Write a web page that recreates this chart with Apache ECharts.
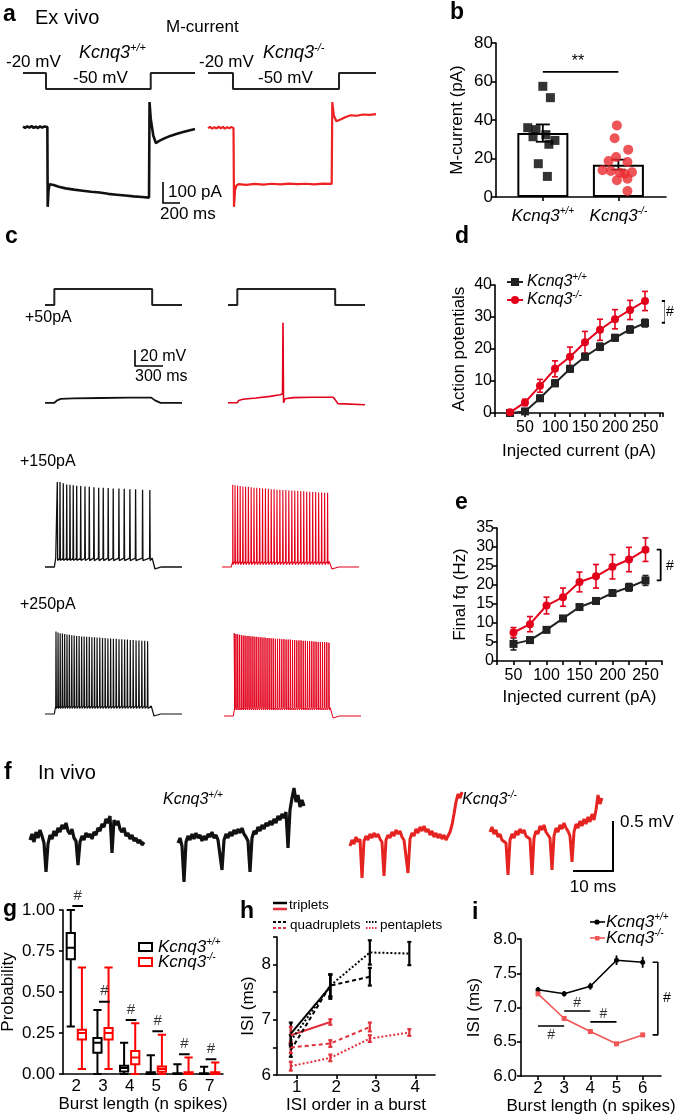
<!DOCTYPE html>
<html>
<head>
<meta charset="utf-8">
<script src="https://cdn.jsdelivr.net/npm/echarts@6/dist/echarts.min.js"></script>
<style>
html, body { margin: 0; padding: 0; background: #fff; }
#main { width: 675px; height: 1117px; }
</style>
</head>
<body>
<div id="main"></div>
<script>
var F = '"Liberation Sans", Arial, Helvetica, sans-serif';
var BLACK = '#111';
var RED = '#e3001b';

// ---- a: M-current, ex vivo (time ms, current pA / voltage mV)
var aProtoWT = [[0,-20],[270,-20],[270,-50],[1500,-50],[1500,-20],[2020,-20]];
var aProtoKO = [[0,-20],[294,-20],[294,-50],[1541,-50],[1541,-20],[1976,-20]];
var aCurrWT = [[0,3],[25,-4],[50,4],[75,-3],[100,5],[125,-4],[150,3],[175,-5],[200,4],[225,-3],[250,3],[286,0],[290,-380],[300,-300],[312,-272],[330,-268],[360,-276],[420,-284],[500,-292],[600,-298],[700,-303],[800,-308],[900,-312],[1000,-318],[1100,-322],[1200,-326],[1300,-330],[1400,-333],[1480,-336],[1486,119],[1500,40],[1530,-40],[1560,-76],[1600,-66],[1660,-54],[1730,-42],[1800,-33],[1880,-24],[1950,-16],[2020,-9]];
var aCurrKO = [[0,-5],[25,1],[50,-8],[75,0],[100,-7],[125,2],[150,-6],[175,1],[200,-8],[225,0],[250,-6],[275,1],[300,-5],[306,-380],[318,-300],[335,-278],[360,-272],[450,-275],[550,-271],[650,-274],[750,-270],[850,-273],[950,-269],[1050,-272],[1150,-270],[1250,-273],[1350,-269],[1455,-271],[1462,119],[1480,55],[1510,28],[1530,24],[1570,38],[1620,48],[1680,56],[1750,54],[1820,60],[1900,58],[1976,62]];

// ---- b: M-current amplitude (pA)
var bGroups = [0, 1];
var bMean = [33.2, 16.8];
var bSem = [4.5, 2.6];
var bWTpts = [[0.0,57.5],[0.1,51.6],[-0.2,36.0],[-0.09,35.0],[-0.13,31.3],[0.04,32.4],[0.16,29.4],[0.08,27.4],[-0.06,17.3],[0.06,10.7]];
var bKOpts = [[0.98,37.2],[0.95,30.5],[1.13,24.6],[0.97,20.8],[0.87,18.7],[1.12,18.2],[0.79,13.9],[0.9,13.5],[1.02,12.6],[1.18,12.9],[1.08,12.1],[0.98,8.7],[1.12,9.5],[1.12,3.1]];
var bSig = 65;

// ---- c: current-clamp traces (time ms, mV)
var cProto = [[0,0],[100,0],[100,50],[1150,50],[1150,0],[1470,0]];
var c50WT = [[0,-70],[100,-70],[130,-67],[170,-65],[300,-64.5],[600,-64],[900,-63.5],[1140,-63.5],[1180,-67],[1240,-70],[1470,-70]];
var c50KO = [[0,-70],[100,-70],[115,-67],[160,-65.5],[300,-64],[450,-62],[560,-60],[585,-59],[590,30],[596,-70],[612,-65],[700,-63.5],[900,-63],[1130,-63],[1150,-64],[1180,-71],[1470,-72.5]];
var c150WTlev = [-70, -59, -62];
var c150WTspk = [132,161,196,233,268,303,340,383,429,475,525,576,625,678,732,793,850,911,972,1047,1125];
var c150WTpk = [36,36,34.5,33,32.5,32,31.5,31,30.5,30,29.5,29,29,28.5,28,28,27.5,27,27,26.5,26];
var c150KOlev = [-70, -63, -67];
var c150KOspk = [115,140,167,195,224,253,283,313,343,373,404,435,466,497,528,559,590,621,653,685,717,749,781,813,845,877,909,941,973,1005,1037,1069,1101,1133];
var c150KOpk = [32.5,32,31.5,31,30.5,30,30,29.5,29,29,28.5,28,28,27.5,27,27,26.5,26.5,26,26,25.5,25.5,25,25,24.5,24.5,24,24,23.5,23.5,23,23,22.5,22.5];
var c250WTlev = [-70, -60, -63];
var c250WTspk = [118,140,163,187,211,236,261,287,313,339,366,393,420,447,475,503,531,559,588,617,646,675,704,734,764,794,824,854,884,915,946,977,1008,1039,1070,1101];
var c250WTpk = [33,32,31,30.5,30,29.5,29,28.5,28,27.5,27.5,27,27,26.5,26.5,26,26,25.5,25.5,25,25,24.5,24.5,24,24,23.5,23.5,23,23,22.5,22.5,22,22,21.5,21.5,21];
var c250KOlev = [-72.5, -62, -65];
var c250KOspk = [110,128,147,166,186,206,226,247,268,289,310,331,352,374,396,418,440,462,484,506,528,551,574,597,620,643,666,689,712,735,758,781,804,827,850,873,896,919,942,965,988,1011,1034,1057,1080,1103,1126];
var c250KOpk = [31,30,29.5,29,28.5,28,28,27.5,27.5,27,27,26.5,26.5,26,26,25.5,25.5,25,25,24.5,24.5,24,24,24,23.5,23.5,23,23,23,22.5,22.5,22,22,22,21.5,21.5,21,21,21,20.5,20.5,20,20,20,19.5,19.5,19];

// ---- d: action potentials vs injected current
var dCurrent = [25,50,75,100,125,150,175,200,225,250];
var dWT = [0, 0.5, 4.6, 9.3, 13.8, 17.6, 20.7, 23.5, 26.1, 28.1];
var dWTsem = [0.2, 0.4, 0.9, 1.0, 1.0, 1.0, 1.1, 1.0, 1.1, 1.2];
var dKO = [0.2, 3.3, 8.5, 13.8, 17.6, 22.1, 26.0, 29.3, 32.2, 35.0];
var dKOsem = [0.3, 1.0, 2.0, 2.5, 3.0, 3.4, 3.3, 3.0, 3.0, 3.0];

// ---- e: final frequency vs injected current
var eCurrent = [50,75,100,125,150,175,200,225,250];
var eWT = [4.5, 5.5, 8.2, 11.2, 14.2, 15.8, 17.9, 19.4, 21.2];
var eWTsem = [1.6, 0.8, 0.7, 0.7, 0.6, 0.7, 0.7, 1.0, 1.3];
var eKO = [7.5, 9.7, 14.6, 16.8, 20.8, 22.3, 24.8, 26.7, 29.3];
var eKOsem = [1.3, 2.0, 2.2, 2.4, 2.6, 3.1, 3.2, 3.2, 3.1];

// ---- f: in vivo traces (0.5 ms samples, uV)
var fWT1 = [0,60,-20,80,20,100,40,-30,-320,-40,50,10,90,40,120,80,150,110,170,90,60,110,20,-10,-250,-20,40,0,70,30,60,10,80,50,120,90,160,130,210,170,240,-130,200,150,190,110,80,120,40,70,10,50,-10,20,-30,0,-50,-20];
var fWT2 = [-30,20,-60,-420,-20,40,0,60,10,70,20,50,-10,40,0,60,30,80,20,50,0,-20,-300,0,60,20,80,40,100,60,110,70,120,60,30,-10,-320,20,90,60,130,90,150,110,170,140,190,150,210,170,240,200,260,220,280,-80,300,420,520,380,450,330,400,340];
var fKO1 = [-60,0,-40,30,-20,10,-380,-10,40,0,60,20,70,30,60,10,-20,-360,0,50,20,80,40,100,60,90,30,0,-20,-330,10,70,40,110,70,130,90,140,80,110,50,90,30,70,20,60,10,50,0,40,80,150,260,380,460,420,480];
var fKO2 = [80,130,60,100,30,60,0,20,-30,-350,0,60,20,90,50,110,70,100,40,60,10,-350,20,90,60,140,100,150,80,60,20,-300,40,120,80,150,110,170,120,90,40,-220,80,160,120,190,140,210,160,230,180,260,200,300,450,360,420];

// ---- g: burst length probability (min, Q1, median, Q3, max)
var gCats = ['2','3','4','5','6','7'];
var gWT = [[0.29,0.70,0.77,0.86,1.0],[0,0.13,0.19,0.22,0.39],[0,0.016,0.036,0.05,0.19],[0,0,0.004,0.01,0.115],[0,0,0.002,0.004,0.059],[0,0,0.002,0.004,0.044]];
var gKO = [[0.03,0.21,0.25,0.27,0.65],[0.03,0.21,0.25,0.28,0.65],[0,0.06,0.10,0.14,0.31],[0,0.014,0.03,0.046,0.24],[0,0,0.005,0.01,0.10],[0,0,0.005,0.01,0.07]];
var gSig = [1.024, 0.44, 0.33, 0.26, 0.12, 0.09];

// ---- h: ISI by order in burst (ms)
var hOrder = [0.85, 1.85, 2.85, 3.85];
var hTripWT = [6.75, 7.6], hTripWTsem = [0.2, 0.22];
var hTripKO = [6.72, 6.96], hTripKOsem = [0.15, 0.05];
var hQuadWT = [6.45, 7.62, 7.78], hQuadWTsem = [0.12, 0.2, 0.16];
var hQuadKO = [6.5, 6.57, 6.87], hQuadKOsem = [0.1, 0.06, 0.08];
var hPentWT = [6.62, 7.62, 8.22, 8.2], hPentWTsem = [0.1, 0.2, 0.22, 0.21];
var hPentKO = [6.16, 6.31, 6.66, 6.77], hPentKOsem = [0.08, 0.06, 0.06, 0.06];

// ---- i: ISI vs burst length (ms)
var iBurst = [2, 3, 4, 5, 6];
var iWT = [7.26, 7.2, 7.31, 7.69, 7.66], iWTsem = [0.04, 0.04, 0.05, 0.07, 0.08];
var iKO = [7.2, 6.84, 6.65, 6.47, 6.6], iKOsem = [0.03, 0.02, 0.02, 0.02, 0.03];
var iSig = [[2, 3, 6.73], [3, 4, 6.95], [4, 5, 6.79]];
var iSigText = [[2.5, 6.6], [3.5, 7.06], [4.5, 6.9]];

// ------------------------------------------------------------------
var grids = [], xAxes = [], yAxes = [], series = [], graphics = [];

function addGrid(rect, xa, ya) {
    var g = grids.length;
    rect.outerBoundsMode = 'none';
    grids.push(rect);
    xa.gridIndex = g; ya.gridIndex = g;
    xAxes.push(xa); yAxes.push(ya);
    return { x: xAxes.length - 1, y: yAxes.length - 1 };
}
function hid(min, max) { return { type: 'value', show: false, min: min, max: max }; }

function axisBase(extra) {
    var a = {
        axisLine: { onZero: false, lineStyle: { color: '#000', width: 1.6 } },
        axisTick: { length: 4, lineStyle: { color: '#000', width: 1.6 } },
        axisLabel: { color: '#000', fontSize: 16, fontFamily: F, margin: 5 },
        splitLine: { show: false },
        nameLocation: 'middle',
        nameTextStyle: { color: '#000', fontSize: 17, fontFamily: F }
    };
    for (var k in extra) {
        if (typeof extra[k] === 'object' && !Array.isArray(extra[k]) && a[k]) {
            a[k] = Object.assign({}, a[k], extra[k]);
        } else a[k] = extra[k];
    }
    return a;
}

function line(ax, data, color, width, opts) {
    series.push(Object.assign({
        type: 'line', xAxisIndex: ax.x, yAxisIndex: ax.y, data: data,
        symbol: 'none', showSymbol: false, clip: false, silent: true, animation: false,
        lineStyle: { color: color, width: width }, itemStyle: { color: color }
    }, opts || {}));
}

function errBars(ax, xs, means, sems, color, cap, lw) {
    var data = xs.map(function (x, k) { return [x, means[k] - sems[k], means[k] + sems[k]]; });
    series.push({
        type: 'custom', xAxisIndex: ax.x, yAxisIndex: ax.y, data: data, silent: true, animation: false, z: 3,
        renderItem: function (p, api) {
            var lo = api.coord([api.value(0), api.value(1)]);
            var hi = api.coord([api.value(0), api.value(2)]);
            var st = { stroke: color, lineWidth: lw };
            return { type: 'group', children: [
                { type: 'line', shape: { x1: lo[0], y1: lo[1], x2: hi[0], y2: hi[1] }, style: st },
                { type: 'line', shape: { x1: lo[0] - cap, y1: lo[1], x2: lo[0] + cap, y2: lo[1] }, style: st },
                { type: 'line', shape: { x1: hi[0] - cap, y1: hi[1], x2: hi[0] + cap, y2: hi[1] }, style: st }
            ] };
        }
    });
}

function spikeTrace(lev, times, peaks, tOn, tOff, tEnd) {
    var base = lev[0], step = lev[1], ahp = lev[2];
    var pts = [[0, base], [tOn, base], [tOn + 15, step]];
    times.forEach(function (t, k) {
        var pk = peaks[k] !== undefined ? peaks[k] : peaks[peaks.length - 1];
        pts.push([t - 3, step], [t, pk], [t + 4, ahp]);
    });
    pts.push([tOff, step], [tOff + 30, base - 2.5], [tOff + 100, base], [tEnd, base]);
    return pts;
}

function txt(text, x, y, size, opt) {
    graphics.push({ type: 'text', silent: true, style: Object.assign({
        text: text, x: x, y: y, fontSize: size, fontFamily: F, fill: '#000',
        align: 'left', verticalAlign: 'middle' }, opt || {}) });
}
function kcnq(sup, x, y, size, align) {
    graphics.push({ type: 'text', silent: true, style: {
        text: '{i|Kcnq3}{s|' + sup + '}', x: x, y: y, align: align || 'left', verticalAlign: 'middle',
        rich: {
            i: { fontSize: size, fontStyle: 'italic', fontFamily: F, fill: '#000' },
            s: { fontSize: Math.round(size * 0.6), fontStyle: 'italic', fontFamily: F, fill: '#000',
                 padding: [0, 0, Math.round(size * 0.6), 0] }
        } } });
}
function poly(points, w, color, dash) {
    graphics.push({ type: 'polyline', silent: true, shape: { points: points },
        style: { stroke: color || '#000', lineWidth: w, fill: 'none', lineDash: dash || null } });
}
function rich(size) {
    return {
        i: { fontSize: size, fontStyle: 'italic', fontFamily: F, color: '#000' },
        s: { fontSize: Math.round(size * 0.6), fontStyle: 'italic', fontFamily: F, color: '#000',
             padding: [0, 0, Math.round(size * 0.6), 0] }
    };
}

// ---- panel a
var aPL = addGrid({ left: 23, top: 73, width: 172, height: 16 }, hid(0, 2020), hid(-50, -20));
var aPR = addGrid({ left: 208, top: 73, width: 168, height: 16 }, hid(0, 1976), hid(-50, -20));
var aCL = addGrid({ left: 23, top: 100, width: 172, height: 110 }, hid(0, 2020), hid(-395, 129));
var aCR = addGrid({ left: 208, top: 100, width: 168, height: 110 }, hid(0, 1976), hid(-395, 129));
line(aPL, aProtoWT, '#222', 2);
line(aPR, aProtoKO, '#222', 2);
line(aCL, aCurrWT, BLACK, 2.6);
line(aCR, aCurrKO, '#ee2222', 2.2);

// ---- panel b
var bAx = addGrid({ left: 496, top: 43, width: 170, height: 154 },
    axisBase({ type: 'value', min: -0.62, max: 1.63,
        axisTick: { customValues: [0, 1] },
        axisLabel: { customValues: [0, 1], margin: 9,
            formatter: function (v) { return v === 0 ? '{i|Kcnq3}{s|+/+}' : '{i|Kcnq3}{s|-/-}'; },
            rich: rich(17) } }),
    axisBase({ type: 'value', min: 0, max: 80, interval: 20, name: 'M-current (pA)', nameGap: 30,
        axisLabel: { margin: 3, fontSize: 17 } }));
series.push({ type: 'bar', xAxisIndex: bAx.x, yAxisIndex: bAx.y, barWidth: 51, silent: true, animation: false,
    data: bGroups.map(function (g, k) { return [g, bMean[k]]; }),
    itemStyle: { color: '#fff', borderColor: '#000', borderWidth: 2 } });
errBars(bAx, bGroups, bMean, bSem, '#000', 7, 1.8);
series.push({ type: 'scatter', xAxisIndex: bAx.x, yAxisIndex: bAx.y, data: bWTpts, symbol: 'rect',
    symbolSize: 9, itemStyle: { color: '#000' }, silent: true, animation: false, z: 4 });
series.push({ type: 'scatter', xAxisIndex: bAx.x, yAxisIndex: bAx.y, data: bKOpts, symbol: 'circle',
    symbolSize: 10, itemStyle: { color: '#ea2a30' }, silent: true, animation: false, z: 4 });
line(bAx, [[0, bSig], [1, bSig]], '#000', 1.6);

// ---- panel c
var cPL = addGrid({ left: 45, top: 289, width: 137, height: 16 }, hid(0, 1470), hid(0, 50));
var cPR = addGrid({ left: 228, top: 289, width: 137, height: 16 }, hid(0, 1470), hid(0, 50));
line(cPL, cProto, '#222', 2);
line(cPR, cProto, '#222', 2);
var c1L = addGrid({ left: 45, top: 310, width: 137, height: 100 }, hid(0, 1470), hid(-79, 46));
var c1R = addGrid({ left: 228, top: 310, width: 137, height: 100 }, hid(0, 1470), hid(-79, 46));
line(c1L, c50WT, BLACK, 1.8);
line(c1R, c50KO, RED, 1.6);
var c2L = addGrid({ left: 45, top: 470, width: 137, height: 105 }, hid(0, 1470), hid(-80, 51));
var c2R = addGrid({ left: 222, top: 470, width: 137, height: 105 }, hid(0, 1470), hid(-80, 51));
line(c2L, spikeTrace(c150WTlev, c150WTspk, c150WTpk, 100, 1150, 1470), BLACK, 1.3);
line(c2R, spikeTrace(c150KOlev, c150KOspk, c150KOpk, 100, 1150, 1470), RED, 1.1);
var c3L = addGrid({ left: 45, top: 620, width: 137, height: 100 }, hid(0, 1470), hid(-77.5, 47.5));
var c3R = addGrid({ left: 224, top: 620, width: 137, height: 100 }, hid(0, 1470), hid(-77.5, 47.5));
line(c3L, spikeTrace(c250WTlev, c250WTspk, c250WTpk, 100, 1140, 1470), BLACK, 1.2);
line(c3R, spikeTrace(c250KOlev, c250KOspk, c250KOpk, 100, 1140, 1470), RED, 1.0);

// ---- panel d
var dAx = addGrid({ left: 495, top: 285, width: 168, height: 128 },
    axisBase({ type: 'value', min: 0, max: 280, interval: 25, name: 'Injected current (pA)', nameGap: 30,
        axisLabel: { margin: 7, formatter: function (v) { return (v > 0 && v % 50 === 0) ? v : ''; } } }),
    axisBase({ type: 'value', min: 0, max: 40, interval: 10, name: 'Action potentials', nameGap: 27,
        axisLabel: { margin: 3 } }));
errBars(dAx, dCurrent, dWT, dWTsem, '#222', 3, 1.6);
errBars(dAx, dCurrent, dKO, dKOsem, RED, 3, 1.6);
line(dAx, dCurrent.map(function (c, k) { return [c, dWT[k]]; }), '#222', 2,
    { symbol: 'rect', showSymbol: true, symbolSize: 8, z: 4 });
line(dAx, dCurrent.map(function (c, k) { return [c, dKO[k]]; }), RED, 2,
    { symbol: 'circle', showSymbol: true, symbolSize: 8, z: 5 });
line(dAx, [[278, 35], [284, 35], [284, 28.2], [278, 28.2]], '#000', 1.8);

// ---- panel e
var eAx = addGrid({ left: 497, top: 528, width: 165, height: 133 },
    axisBase({ type: 'value', min: 25, max: 275, interval: 25, name: 'Injected current (pA)', nameGap: 28,
        axisLabel: { margin: 7, formatter: function (v) { return v % 50 === 0 ? v : ''; } } }),
    axisBase({ type: 'value', min: 0, max: 35, interval: 5, name: 'Final fq (Hz)', nameGap: 28,
        axisLabel: { margin: 3 } }));
errBars(eAx, eCurrent, eWT, eWTsem, '#222', 3, 1.6);
errBars(eAx, eCurrent, eKO, eKOsem, RED, 3, 1.6);
line(eAx, eCurrent.map(function (c, k) { return [c, eWT[k]]; }), '#222', 2,
    { symbol: 'rect', showSymbol: true, symbolSize: 8, z: 4 });
line(eAx, eCurrent.map(function (c, k) { return [c, eKO[k]]; }), RED, 2,
    { symbol: 'circle', showSymbol: true, symbolSize: 8, z: 5 });
line(eAx, [[267, 29.3], [273, 29.3], [273, 21.2], [267, 21.2]], '#000', 1.8);

// ---- panel f
function catAxis(n) { return { type: 'category', show: false, boundaryGap: false, data: Array.from({ length: n }, function (_, k) { return k; }) }; }
var f1 = addGrid({ left: 30, top: 785, width: 114, height: 110 }, catAxis(fWT1.length), hid(-550, 550));
var f2 = addGrid({ left: 178, top: 785, width: 126, height: 110 }, catAxis(fWT2.length), hid(-550, 550));
var f3 = addGrid({ left: 350, top: 785, width: 112, height: 110 }, catAxis(fKO1.length), hid(-550, 550));
var f4 = addGrid({ left: 490, top: 785, width: 112, height: 110 }, catAxis(fKO2.length), hid(-550, 550));
line(f1, fWT1, BLACK, 3.2);
line(f2, fWT2, BLACK, 3.2);
line(f3, fKO1, '#e52421', 3);
line(f4, fKO2, '#e52421', 3);

// ---- panel g
var gAx = addGrid({ left: 63, top: 910, width: 160, height: 164 },
    axisBase({ type: 'category', data: gCats, name: 'Burst length (n spikes)', nameGap: 22,
        axisTick: { alignWithLabel: true }, axisLabel: { margin: 4, fontSize: 17 } }),
    axisBase({ type: 'value', min: 0, max: 1, interval: 0.25, name: 'Probability', nameGap: 46,
        axisLabel: { margin: 8, fontSize: 17, formatter: function (v) { return v.toFixed(2); } } }));
xAxes.push({ type: 'value', gridIndex: grids.length - 1, min: 1.5, max: 7.5, show: false });
var gSigAx = { x: xAxes.length - 1, y: gAx.y };
series.push({ type: 'boxplot', xAxisIndex: gAx.x, yAxisIndex: gAx.y, data: gWT, boxWidth: [8, 10],
    silent: true, animation: false, itemStyle: { color: '#fff', borderColor: '#000', borderWidth: 2 } });
series.push({ type: 'boxplot', xAxisIndex: gAx.x, yAxisIndex: gAx.y, data: gKO, boxWidth: [8, 10],
    silent: true, animation: false, itemStyle: { color: '#fff', borderColor: '#ff0000', borderWidth: 2 } });
var gSigLines = [];
gSig.forEach(function (s, k) {
    var c = k + 2;
    gSigLines.push([c - 0.15, s], [c + 0.25, s], null);
});
line(gSigAx, gSigLines, '#000', 2, { connectNulls: false });
series.push({ type: 'scatter', xAxisIndex: gSigAx.x, yAxisIndex: gSigAx.y, symbolSize: 0, silent: true, animation: false,
    clip: false,
    data: gSig.map(function (s, k) { return [k + 2.05, s]; }),
    label: { show: true, position: 'top', distance: 3, formatter: '#', color: '#000', fontSize: 15, fontFamily: F } });

// ---- panel h
var hAx = addGrid({ left: 277, top: 937, width: 158, height: 138 },
    axisBase({ type: 'value', min: 0.5, max: 4.5, name: 'ISI order in a burst', nameGap: 22,
        axisTick: { customValues: [1, 2, 3, 4] },
        axisLabel: { customValues: [1, 2, 3, 4], margin: 4, fontSize: 17 } }),
    axisBase({ type: 'value', min: 6, max: 8.5, interval: 0.5, name: 'ISI (ms)', nameGap: 20,
        axisLabel: { margin: 6, fontSize: 17, formatter: function (v) { return v % 1 === 0 ? v : ''; } } }));
var HRED = '#e0303c';
function hSeries(vals, sems, color, type) {
    var xs = hOrder.slice(0, vals.length);
    errBars(hAx, xs, vals, sems, color, 2, 2.2);
    line(hAx, xs.map(function (x, k) { return [x, vals[k]]; }), color, 2, { lineStyle: { color: color, width: 2, type: type } });
}
hSeries(hTripWT, hTripWTsem, '#000', 'solid');
hSeries(hTripKO, hTripKOsem, HRED, 'solid');
hSeries(hQuadWT, hQuadWTsem, '#000', [4, 3]);
hSeries(hQuadKO, hQuadKOsem, HRED, [4, 3]);
hSeries(hPentWT, hPentWTsem, '#000', [2, 2]);
hSeries(hPentKO, hPentKOsem, HRED, [2, 2]);

// ---- panel i
var IRED = '#f05656';
var iAx = addGrid({ left: 521, top: 939, width: 140, height: 137 },
    axisBase({ type: 'value', min: 1.35, max: 6.7, name: 'Burst length (n spikes)', nameGap: 22,
        axisTick: { customValues: iBurst },
        axisLabel: { customValues: iBurst, margin: 4, fontSize: 17 } }),
    axisBase({ type: 'value', min: 6, max: 8, interval: 0.5, name: 'ISI (ms)', nameGap: 38,
        axisLabel: { margin: 4, fontSize: 17, formatter: function (v) { return v.toFixed(1); } } }));
errBars(iAx, iBurst, iWT, iWTsem, '#000', 0, 1.8);
errBars(iAx, iBurst, iKO, iKOsem, IRED, 0, 1.8);
line(iAx, iBurst.map(function (b, k) { return [b, iWT[k]]; }), '#000', 1.6,
    { symbol: 'circle', showSymbol: true, symbolSize: 5, z: 4 });
line(iAx, iBurst.map(function (b, k) { return [b, iKO[k]]; }), IRED, 1.6,
    { symbol: 'rect', showSymbol: true, symbolSize: 5, z: 4 });
var iSigLines = [];
iSig.forEach(function (s) { iSigLines.push([s[0], s[2]], [s[1], s[2]], null); });
line(iAx, iSigLines, '#000', 1.6, { connectNulls: false });
series.push({ type: 'scatter', xAxisIndex: iAx.x, yAxisIndex: iAx.y, symbolSize: 0, silent: true, animation: false,
    data: iSigText,
    label: { show: true, position: 'inside', formatter: '#', color: '#000', fontSize: 14, fontFamily: F } });
line(iAx, [[6.38, iWT[4]], [6.58, iWT[4]], [6.58, iKO[4]], [6.38, iKO[4]]], '#000', 1.6);

// ---- text, scale bars, legends
var B = { fontWeight: 'bold' };
txt('a', 3, 15, 23, B);
txt('Ex vivo', 35, 18, 20);
txt('M-current', 166, 27, 17);
txt('-20 mV', 6, 62, 17); txt('-50 mV', 73, 78, 17);
txt('-20 mV', 199, 62, 17); txt('-50 mV', 258, 78, 17);
kcnq('+/+', 79, 53, 18); kcnq('-/-', 263, 53, 18);
poly([[163, 182], [163, 203], [180, 203]], 1.6);
txt('100 pA', 168, 192, 17); txt('200 ms', 160, 214, 17);

txt('b', 450, 13, 23, B);
txt('**', 578, 62, 16, { align: 'center' });

txt('c', 5, 237, 23, B); txt('d', 455, 237, 23, B);
txt('+50pA', 25, 318, 16);
poly([[135, 350], [135, 366], [163, 366]], 1.6);
txt('20 mV', 140, 357, 16); txt('300 ms', 135, 377, 16);
txt('+150pA', 20, 462, 16);
txt('+250pA', 20, 605, 16);
txt('e', 455, 503, 23, B);
txt('#', 666, 312, 14); txt('#', 666, 566, 14);
// d legend
poly([[507, 282], [523, 282]], 2, '#222');
graphics.push({ type: 'rect', silent: true, shape: { x: 511, y: 278, width: 8, height: 8 }, style: { fill: '#222' } });
kcnq('+/+', 527, 282, 16);
poly([[507, 300], [523, 300]], 2, RED);
graphics.push({ type: 'circle', silent: true, shape: { cx: 515, cy: 300, r: 4 }, style: { fill: RED } });
kcnq('-/-', 527, 300, 16);

txt('f', 4, 773, 23, B);
txt('In vivo', 38, 773, 20);
kcnq('+/+', 163, 800, 16); kcnq('-/-', 462, 800, 16);
poly([[573, 871], [613, 871], [613, 821]], 2);
txt('0.5 mV', 620, 822, 17); txt('10 ms', 593, 887, 17, { align: 'center' });

txt('g', 3, 910, 23, B); txt('h', 240, 912, 23, B); txt('i', 472, 913, 23, B);
// g legend
graphics.push({ type: 'rect', silent: true, shape: { x: 139, y: 943, width: 13, height: 8 }, style: { fill: '#fff', stroke: '#000', lineWidth: 2 } });
kcnq('+/+', 158, 947, 17);
graphics.push({ type: 'rect', silent: true, shape: { x: 139, y: 958, width: 13, height: 8 }, style: { fill: '#fff', stroke: '#ff0000', lineWidth: 2 } });
kcnq('-/-', 158, 962, 17);
// h legend
poly([[273, 903], [287, 903]], 2.5, '#000');
poly([[273, 909], [287, 909]], 2.5, HRED);
txt('triplets', 289, 905, 13.5);
poly([[273, 922], [287, 922]], 2, '#000', [3, 2]);
poly([[273, 928], [287, 928]], 2, HRED, [3, 2]);
txt('quadruplets', 290, 925, 13.5);
poly([[366, 922], [378, 922]], 2, '#000', [1.5, 1.5]);
poly([[366, 928], [378, 928]], 2, HRED, [1.5, 1.5]);
txt('pentaplets', 380, 925, 13.5);
// i legend
poly([[590, 922], [605, 922]], 1.6, '#000');
graphics.push({ type: 'circle', silent: true, shape: { cx: 597, cy: 922, r: 2.6 }, style: { fill: '#000' } });
kcnq('+/+', 606, 922, 17);
poly([[590, 938], [605, 938]], 1.6, IRED);
graphics.push({ type: 'rect', silent: true, shape: { x: 595, y: 936, width: 4.5, height: 4.5 }, style: { fill: IRED } });
kcnq('-/-', 606, 938, 17);
txt('#', 663, 998, 14);

var myChart = echarts.init(document.getElementById('main'), null, { renderer: 'canvas' });
myChart.setOption({
    backgroundColor: '#fff',
    animation: false,
    textStyle: { fontFamily: F },
    grid: grids,
    xAxis: xAxes,
    yAxis: yAxes,
    series: series,
    graphic: { elements: graphics }
});
</script>
</body>
</html>
